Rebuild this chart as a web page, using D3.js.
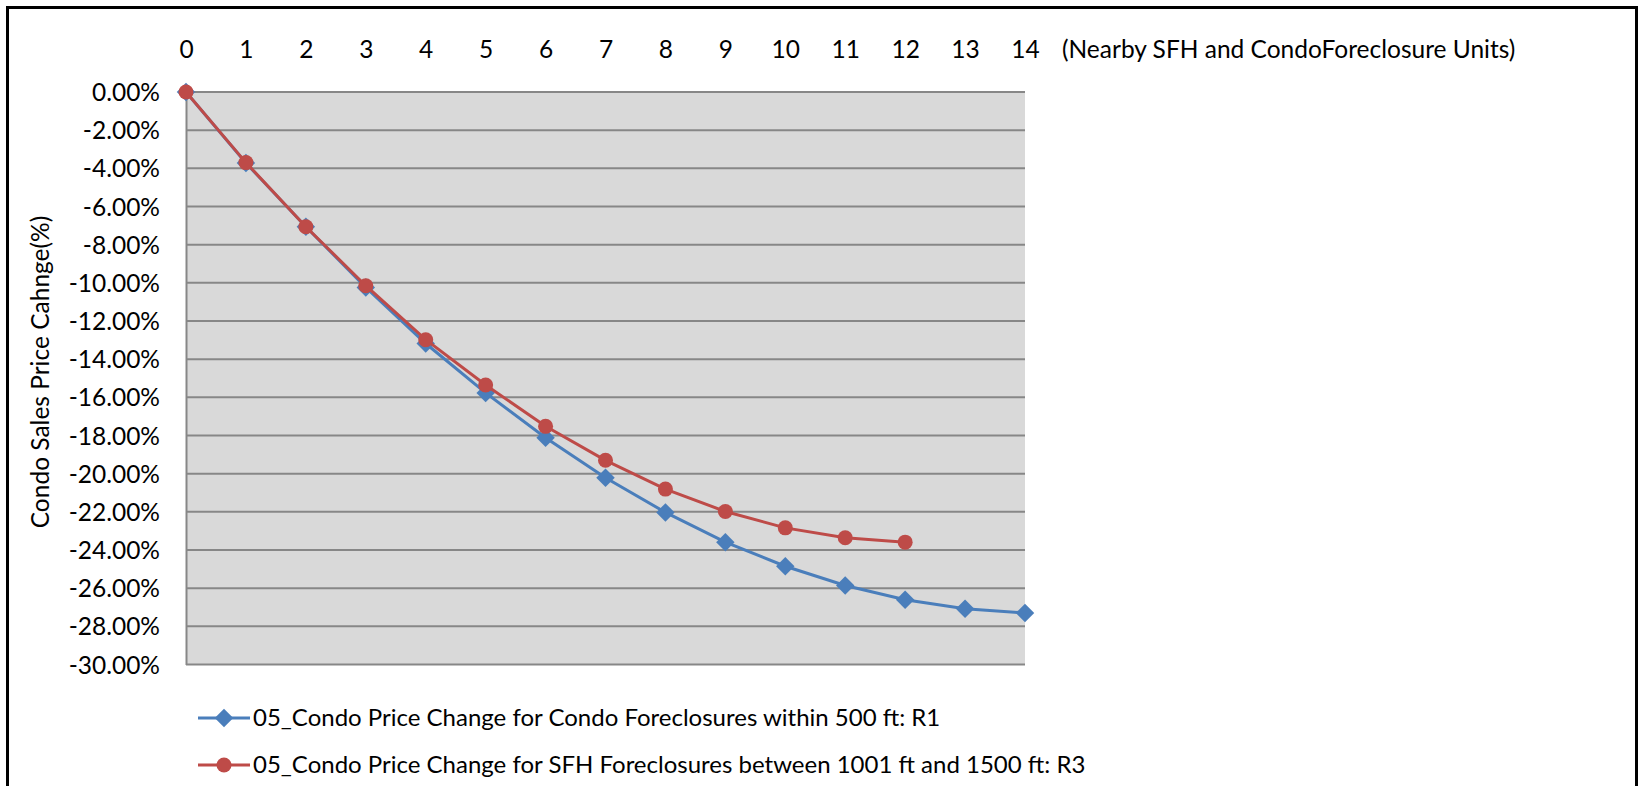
<!DOCTYPE html>
<html>
<head>
<meta charset="utf-8">
<script src="https://cdn.jsdelivr.net/npm/d3@7"></script>
<style>
  body { margin: 0; background: #fff; }
  svg text { font-family: Lato, "Open Sans", sans-serif; fill: #000; }
</style>
</head>
<body>
<svg id="chart" width="1639" height="786"></svg>
<script>
// units of nearby foreclosures (x categories)
let units = [0, 1, 2, 3, 4, 5, 6, 7, 8, 9, 10, 11, 12, 13, 14];
// price change in percent
let r1Values = [0, -3.72, -7.06, -10.24, -13.18, -15.77, -18.12, -20.21, -22.03, -23.59, -24.85, -25.86, -26.61, -27.08, -27.30];
let r3Values = [0, -3.70, -7.06, -10.15, -12.98, -15.35, -17.52, -19.30, -20.81, -21.98, -22.84, -23.36, -23.59];
let yTicks = [0, -2, -4, -6, -8, -10, -12, -14, -16, -18, -20, -22, -24, -26, -28, -30];

let r1Name = "05_Condo Price Change for Condo Foreclosures within 500 ft: R1";
let r3Name = "05_Condo Price Change for SFH Foreclosures between 1001 ft and 1500 ft: R3";

let chart = d3.select("#chart");
let fontSize = "24.5px";

// plain hyphen for negatives, like the original
let fmt = d3.formatLocale({decimal: ".", thousands: ",", grouping: [3], currency: ["$", ""], minus: "-"}).format(".2f");

// outer frame
chart.append("rect")
    .attr("x", 7.5)
    .attr("y", 7.5)
    .attr("width", 1629)
    .attr("height", 800)
    .attr("fill", "none")
    .attr("stroke", "#000")
    .attr("stroke-width", 3);

let plotLeft = 186, plotTop = 92, width = 839, height = 572.5;
let g = chart.append("g")
    .attr("transform", "translate(" + plotLeft + "," + plotTop + ")");

//x,y scales
let x = d3.scaleLinear()
    .range([0, width])
    .domain([0, 14]);

let y = d3.scaleLinear()
    .range([0, height])
    .domain([0, -30]);

// plot background
g.append("rect")
    .attr("width", width)
    .attr("height", height)
    .attr("fill", "#d9d9d9");

// horizontal gridlines
g.selectAll(".grid")
    .data(yTicks.slice(0, -1))
    .enter()
    .append("line")
        .attr("x1", 0)
        .attr("x2", width)
        .attr("y1", d => y(d))
        .attr("y2", d => y(d))
        .attr("stroke", "#878787")
        .attr("stroke-width", 2);

// y axis on the left
let yAxis = g.append("g")
    .call(d3.axisLeft(y).tickValues(yTicks).tickSize(0).tickPadding(26)
        .tickFormat(d => fmt(d) + "%"));
yAxis.select(".domain").attr("stroke", "#878787").attr("stroke-width", 2);
yAxis.selectAll("text").style("font-size", fontSize).attr("dy", "0.35em");

// bottom axis line
g.append("line")
    .attr("x1", 0)
    .attr("x2", width)
    .attr("y1", height)
    .attr("y2", height)
    .attr("stroke", "#878787")
    .attr("stroke-width", 2);

// x axis on top
let xAxis = g.append("g")
    .call(d3.axisTop(x).tickValues(units).tickSize(0).tickPadding(34));
xAxis.select(".domain").remove();
xAxis.selectAll("text").style("font-size", fontSize);

g.append("text")
    .attr("x", 876)
    .attr("y", -34)
    .style("font-size", fontSize)
    .text("(Nearby SFH and CondoForeclosure Units)");

// y axis title
chart.append("text")
    .attr("text-anchor", "middle")
    .attr("transform", "translate(49,372) rotate(-90)")
    .style("font-size", fontSize)
    .text("Condo Sales Price Cahnge(%)");

let line = d3.line()
    .x((d, i) => x(units[i]))
    .y(d => y(d));

let blue = "#4a7ebb", red = "#be4b48";

// R1 series: diamonds
g.append("path")
    .datum(r1Values)
    .attr("d", line)
    .attr("fill", "none")
    .attr("stroke", blue)
    .attr("stroke-width", 3);

g.selectAll(".r1")
    .data(r1Values)
    .enter()
    .append("path")
        .attr("d", d3.symbol(d3.symbolSquare, 170))
        .attr("transform", (d, i) => "translate(" + x(units[i]) + "," + y(d) + ") rotate(45)")
        .attr("fill", blue);

// R3 series: circles
g.append("path")
    .datum(r3Values)
    .attr("d", line)
    .attr("fill", "none")
    .attr("stroke", red)
    .attr("stroke-width", 3);

g.selectAll(".r3")
    .data(r3Values)
    .enter()
    .append("circle")
        .attr("cx", (d, i) => x(units[i]))
        .attr("cy", d => y(d))
        .attr("r", 7.5)
        .attr("fill", red);

// legend
let legend = [
    {name: r1Name, color: blue, shape: "diamond", y: 718},
    {name: r3Name, color: red, shape: "circle", y: 765}
];
legend.forEach(function(l) {
    chart.append("line")
        .attr("x1", 198)
        .attr("x2", 250)
        .attr("y1", l.y)
        .attr("y2", l.y)
        .attr("stroke", l.color)
        .attr("stroke-width", 3);
    if (l.shape == "diamond") {
        chart.append("path")
            .attr("d", d3.symbol(d3.symbolSquare, 170))
            .attr("transform", "translate(224," + l.y + ") rotate(45)")
            .attr("fill", l.color);
    } else {
        chart.append("circle")
            .attr("cx", 224)
            .attr("cy", l.y)
            .attr("r", 7.5)
            .attr("fill", l.color);
    }
    chart.append("text")
        .attr("x", 253)
        .attr("y", l.y)
        .attr("dy", "0.35em")
        .style("font-size", "24px")
        .text(l.name);
});
</script>
</body>
</html>
